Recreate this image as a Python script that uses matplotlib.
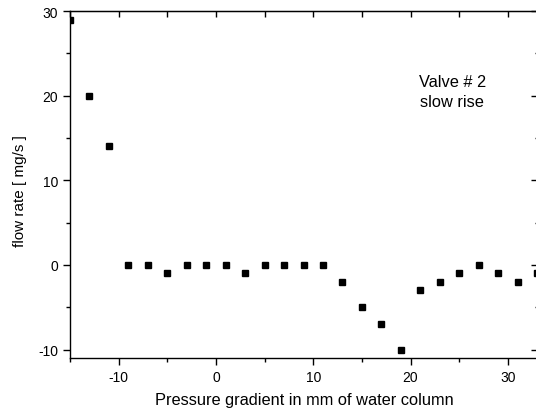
import matplotlib
matplotlib.use('Agg')
import matplotlib.pyplot as plt
from matplotlib.ticker import MultipleLocator

# pressure gradient (mm water column) and flow rate (mg/s)
pressure = [-15, -13, -11, -9, -7, -5, -3, -1, 1, 3, 5, 7, 9, 11, 13,
            15, 17, 19, 21, 23, 25, 27, 29, 31, 33]
flow = [29, 20, 14, 0, 0, -1, 0, 0, 0, -1, 0, 0, 0, 0, -2,
        -5, -7, -10, -3, -2, -1, 0, -1, -2, -1]

plt.rcParams['font.family'] = ['Liberation Sans', 'DejaVu Sans']
plt.rcParams['axes.unicode_minus'] = False

fig = plt.figure(figsize=(5.36, 4.14), dpi=100, facecolor='white')
# right spine sits just past the image edge, like the original scan
ax = fig.add_axes([0.1306, 0.1329, 0.875, 0.838])

ax.plot(pressure, flow, 's', color='black', markersize=5)

ax.set_xlim(-15, 33.2)
ax.set_ylim(-11, 30)
ax.xaxis.set_major_locator(MultipleLocator(10))
ax.xaxis.set_minor_locator(MultipleLocator(5))
ax.yaxis.set_major_locator(MultipleLocator(10))
ax.yaxis.set_minor_locator(MultipleLocator(5))

for s in ax.spines.values():
    s.set_linewidth(1.0)

ax.tick_params(which='both', direction='out', top=False, right=False,
               labelsize=10, width=1.0)
ax.tick_params(which='major', length=5)
ax.tick_params(which='minor', length=3)

# mirrored inward ticks on top and right
ax2 = ax.secondary_xaxis('top')
ax2.xaxis.set_major_locator(MultipleLocator(5))
ax2.tick_params(direction='in', length=4, width=1.0, labeltop=False)
ax3 = ax.secondary_yaxis('right')
ax3.yaxis.set_major_locator(MultipleLocator(10))
ax3.yaxis.set_minor_locator(MultipleLocator(5))
ax3.tick_params(which='major', direction='in', length=6, width=1.0, labelright=False)
ax3.tick_params(which='minor', direction='in', length=3, width=1.0)

ax.set_xlabel('Pressure gradient in mm of water column', fontsize=11.75)
ax.xaxis.set_label_coords(0.5, -0.097)
ax.set_ylabel('flow rate [ mg/s ]', fontsize=11)
ax.yaxis.set_label_coords(-0.092, 0.484)

ax.text(24.3, 20.5, 'Valve # 2\nslow rise', ha='center', va='center',
        multialignment='center', fontsize=11.75, linespacing=1.35)

fig.savefig('out.png', dpi=100)
